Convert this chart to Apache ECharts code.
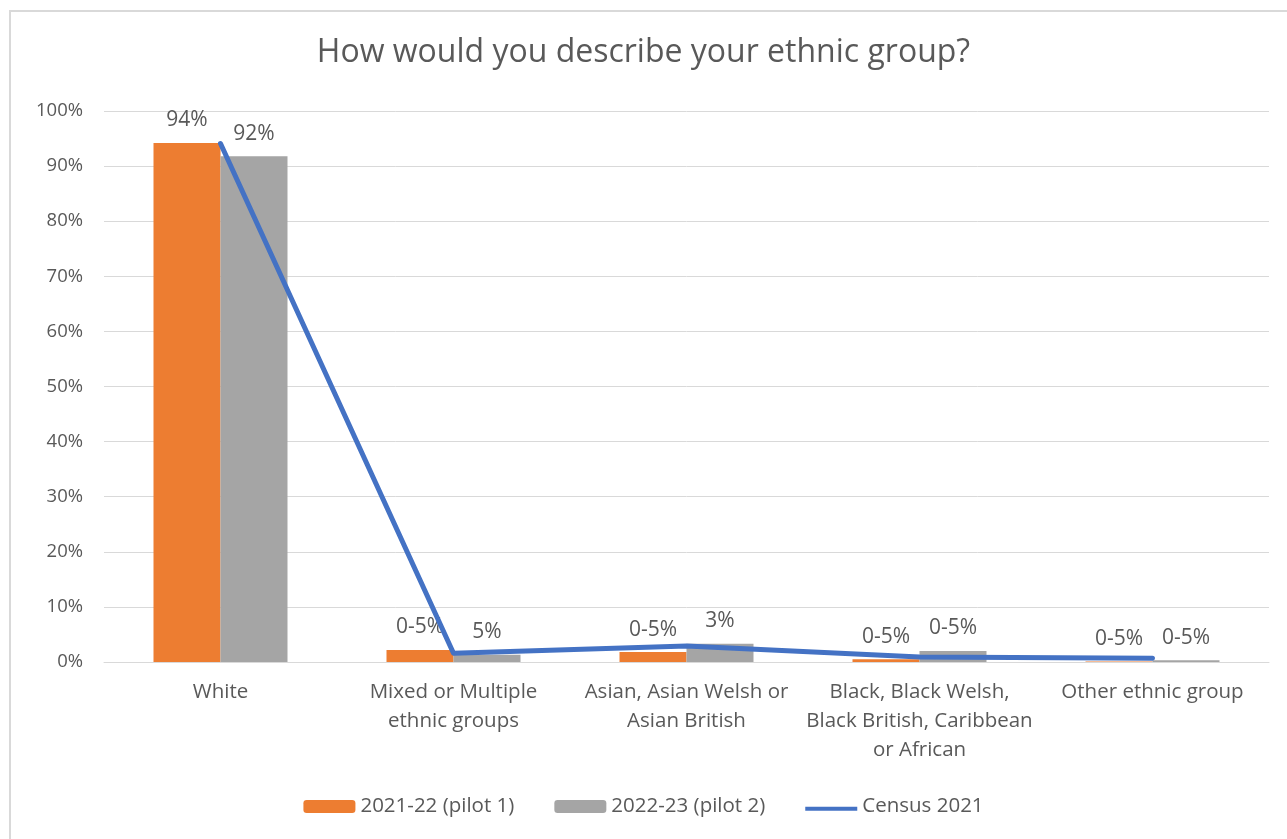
<!DOCTYPE html>
<html>
<head>
<meta charset="utf-8">
<script src="https://cdn.jsdelivr.net/npm/echarts@6/dist/echarts.min.js"></script>
<style>
html,body{margin:0;padding:0;background:#fff;}
#chart{width:1287px;height:839px;}
</style>
</head>
<body>
<div id="chart"></div>
<script>
const categories = ['White', 'Mixed or Multiple\nethnic groups', 'Asian, Asian Welsh or\nAsian British', 'Black, Black Welsh,\nBlack British, Caribbean\nor African', 'Other ethnic group'];
const pilot1 = [94.2, 2.2, 1.8, 0.5, 0.1];
const pilot2 = [91.8, 1.3, 3.3, 2.0, 0.3];
const census = [94.1, 1.6, 2.9, 0.9, 0.7];
const pilot1Labels = ['94%', '0-5%', '0-5%', '0-5%', '0-5%'];
const pilot2Labels = ['92%', '5%', '3%', '0-5%', '0-5%'];
const seriesNames = ['2021-22 (pilot 1)', '2022-23 (pilot 2)', 'Census 2021'];

const FONT = '"Open Sans", "Noto Sans", sans-serif';
const TXT = '#595959';

const chart = echarts.init(document.getElementById('chart'));
chart.setOption({
  animation: false,
  textStyle: { fontFamily: FONT },
  graphic: [{
    type: 'rect', z: -10, silent: true,
    shape: { x: 10, y: 11, width: 1300, height: 900 },
    style: { fill: 'none', stroke: '#D9D9D9', lineWidth: 2 }
  }],
  title: {
    text: 'How would you describe your ethnic group?',
    left: 'center', top: 32,
    textStyle: { fontFamily: FONT, fontSize: 32, fontWeight: 'normal', color: TXT }
  },
  legend: {
    bottom: 17, left: 'center',
    itemWidth: 52, itemHeight: 13, itemGap: 40,
    textStyle: { fontFamily: FONT, fontSize: 20.5, color: TXT },
    data: [
      { name: seriesNames[0] },
      { name: seriesNames[1] },
      { name: seriesNames[2], icon: 'path://M0,0L0,0M0,4.5L52,4.5L52,8.5L0,8.5Z' }
    ]
  },
  grid: { left: 104, right: 18, top: 111, bottom: 177, containLabel: false },
  xAxis: {
    type: 'category',
    data: categories,
    axisLine: { lineStyle: { color: '#D9D9D9', width: 1 } },
    axisTick: { show: false },
    axisLabel: { color: TXT, fontSize: 20.5, lineHeight: 29, margin: 16, interval: 0, fontFamily: FONT }
  },
  yAxis: {
    type: 'value', min: 0, max: 100, interval: 10,
    axisLine: { show: false }, axisTick: { show: false },
    axisLabel: { formatter: '{value}%', color: TXT, fontSize: 18.5, margin: 21, fontFamily: FONT },
    splitLine: { lineStyle: { color: '#D9D9D9', width: 1 } }
  },
  series: [
    {
      name: seriesNames[0], type: 'bar', data: pilot1, barWidth: 67, barGap: '0%',
      itemStyle: { color: '#ED7D31' },
      label: { show: true, position: 'top', distance: 12, color: TXT, fontSize: 21, fontFamily: FONT,
        formatter: p => pilot1Labels[p.dataIndex] }
    },
    {
      name: seriesNames[1], type: 'bar', data: pilot2, barWidth: 67, barGap: '0%',
      itemStyle: { color: '#A5A5A5' },
      label: { show: true, position: 'top', distance: 12, color: TXT, fontSize: 21, fontFamily: FONT,
        formatter: p => pilot2Labels[p.dataIndex] }
    },
    {
      name: seriesNames[2], type: 'line', data: census, symbol: 'none',
      lineStyle: { color: '#4472C4', width: 5, cap: 'round', join: 'round' },
      itemStyle: { color: '#4472C4' }, z: 5
    }
  ]
});
</script>
</body>
</html>
